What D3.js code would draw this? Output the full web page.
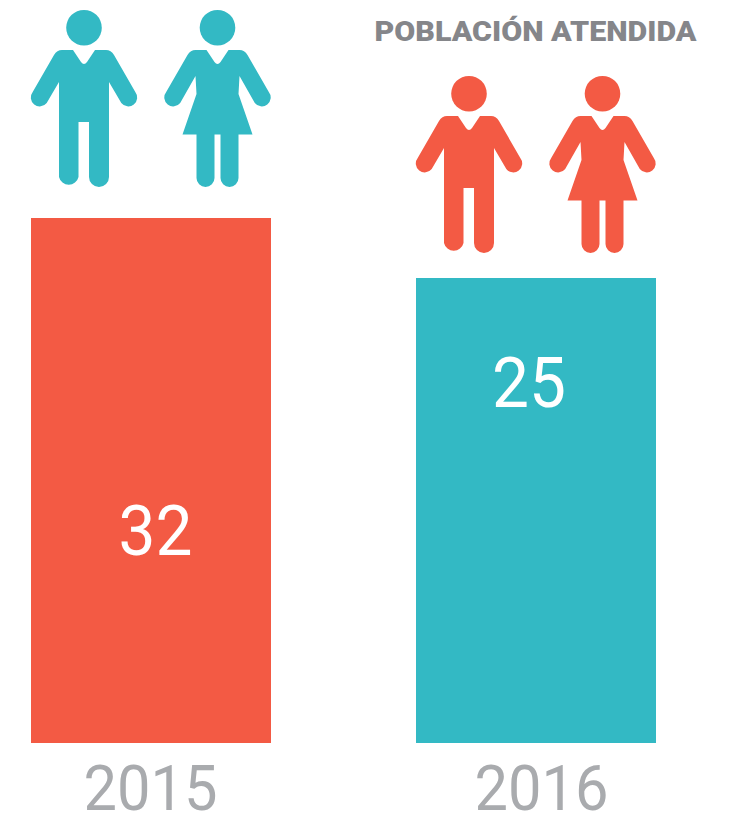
<!DOCTYPE html>
<html><head><meta charset="utf-8">
<script src="https://cdnjs.cloudflare.com/ajax/libs/d3/7.8.5/d3.min.js"></script>
<style>html,body{margin:0;padding:0;background:#fff}svg{display:block}</style>
</head><body><div id="c"></div>
<script>
const years = ["2015", "2016"];
const values = [32, 25];
const barColors = ["#F35A44", "#33B9C4"];
const iconColors = ["#33B9C4", "#F35A44"];
const title = "POBLACIÓN ATENDIDA";

const W = 748, H = 814;
const svg = d3.select("#c").append("svg").attr("width", W).attr("height", H);

// The source bars use a truncated axis: the baseline is not zero.
const y = d3.scaleLinear().domain([-29.25, 32]).range([743, 218]);
const x = d3.scalePoint().domain(years).range([151, 536]);
const barW = 240;

const g = svg.selectAll("g.col").data(years.map((yr, i) => ({yr, v: values[i], i})))
  .join("g").attr("class", "col");

g.append("rect").attr("x", d => x(d.yr) - barW / 2).attr("y", d => y(d.v))
  .attr("width", barW).attr("height", d => y.range()[0] - y(d.v))
  .attr("fill", d => barColors[d.i]);

g.append("text").attr("x", d => x(d.yr) + (d.i ? -7 : 4.5))
  .attr("y", d => d.i ? 407 : 555)
  .attr("text-anchor", "middle").attr("fill", "#fff")
  .attr("font-family", "Roboto").attr("font-weight", 400).attr("font-size", 71)
  .attr("textLength", 74).attr("lengthAdjust", "spacingAndGlyphs")
  .text(d => d.v);

g.append("text").attr("x", d => x(d.yr) + (d.i ? 5.5 : -0.5)).attr("y", 810)
  .attr("text-anchor", "middle").attr("fill", "#A9ABAE")
  .attr("font-family", "Roboto").attr("font-weight", 400).attr("font-size", 63)
  .attr("textLength", 134).attr("lengthAdjust", "spacingAndGlyphs")
  .text(d => d.yr);

svg.append("text").attr("x", 535.5).attr("y", 41).attr("text-anchor", "middle")
  .attr("fill", "#85868A").attr("font-family", "Roboto").attr("font-weight", 900)
  .attr("font-size", 28).attr("textLength", 322).attr("lengthAdjust", "spacingAndGlyphs")
  .text(title);

// Icons: local coordinates, origin at the figure's centre axis, y from the top of the head.
const torso = "M-22,50 L-11,50 L-3,62 Q0,66 3,62 L11,50 L22,50 Q27,50 30,55";
const man = torso + " L51.3,92 A8.5,8.5 0 0 1 37.3,103 L25,82 L25,177 A10,10 0 0 1 5,177 L5,122 L-5.5,122 L-5.5,177 A10,10 0 0 1 -25,177 L-25,82 L-37.3,103 A8.5,8.5 0 0 1 -51.3,92 L-30,55 Q-27,50 -22,50 Z";
const woman = torso + " L51.3,92 A8.5,8.5 0 0 1 37.3,103 L22,76 L21,94 L35,134.5 L21,134.5 L21,178 A9,9 0 0 1 3,178 L3,134.5 L-3,134.5 L-3,178 A9,9 0 0 1 -21,178 L-21,134.5 L-35,134.5 L-21,94 L-22,76 L-37.3,103 A8.5,8.5 0 0 1 -51.3,92 L-30,55 Q-27,50 -22,50 Z";

const iconTop = d => d.i ? 66 : 0;
[[man, -67], [woman, 66.5]].forEach(([p, dx]) => {
  const f = g.append("g")
    .attr("transform", d => `translate(${x(d.yr) + dx},${iconTop(d)})`)
    .attr("fill", d => iconColors[d.i]);
  f.append("circle").attr("cx", 0).attr("cy", 27.7).attr("r", 17.8);
  f.append("path").attr("d", p);
});
</script></body></html>
